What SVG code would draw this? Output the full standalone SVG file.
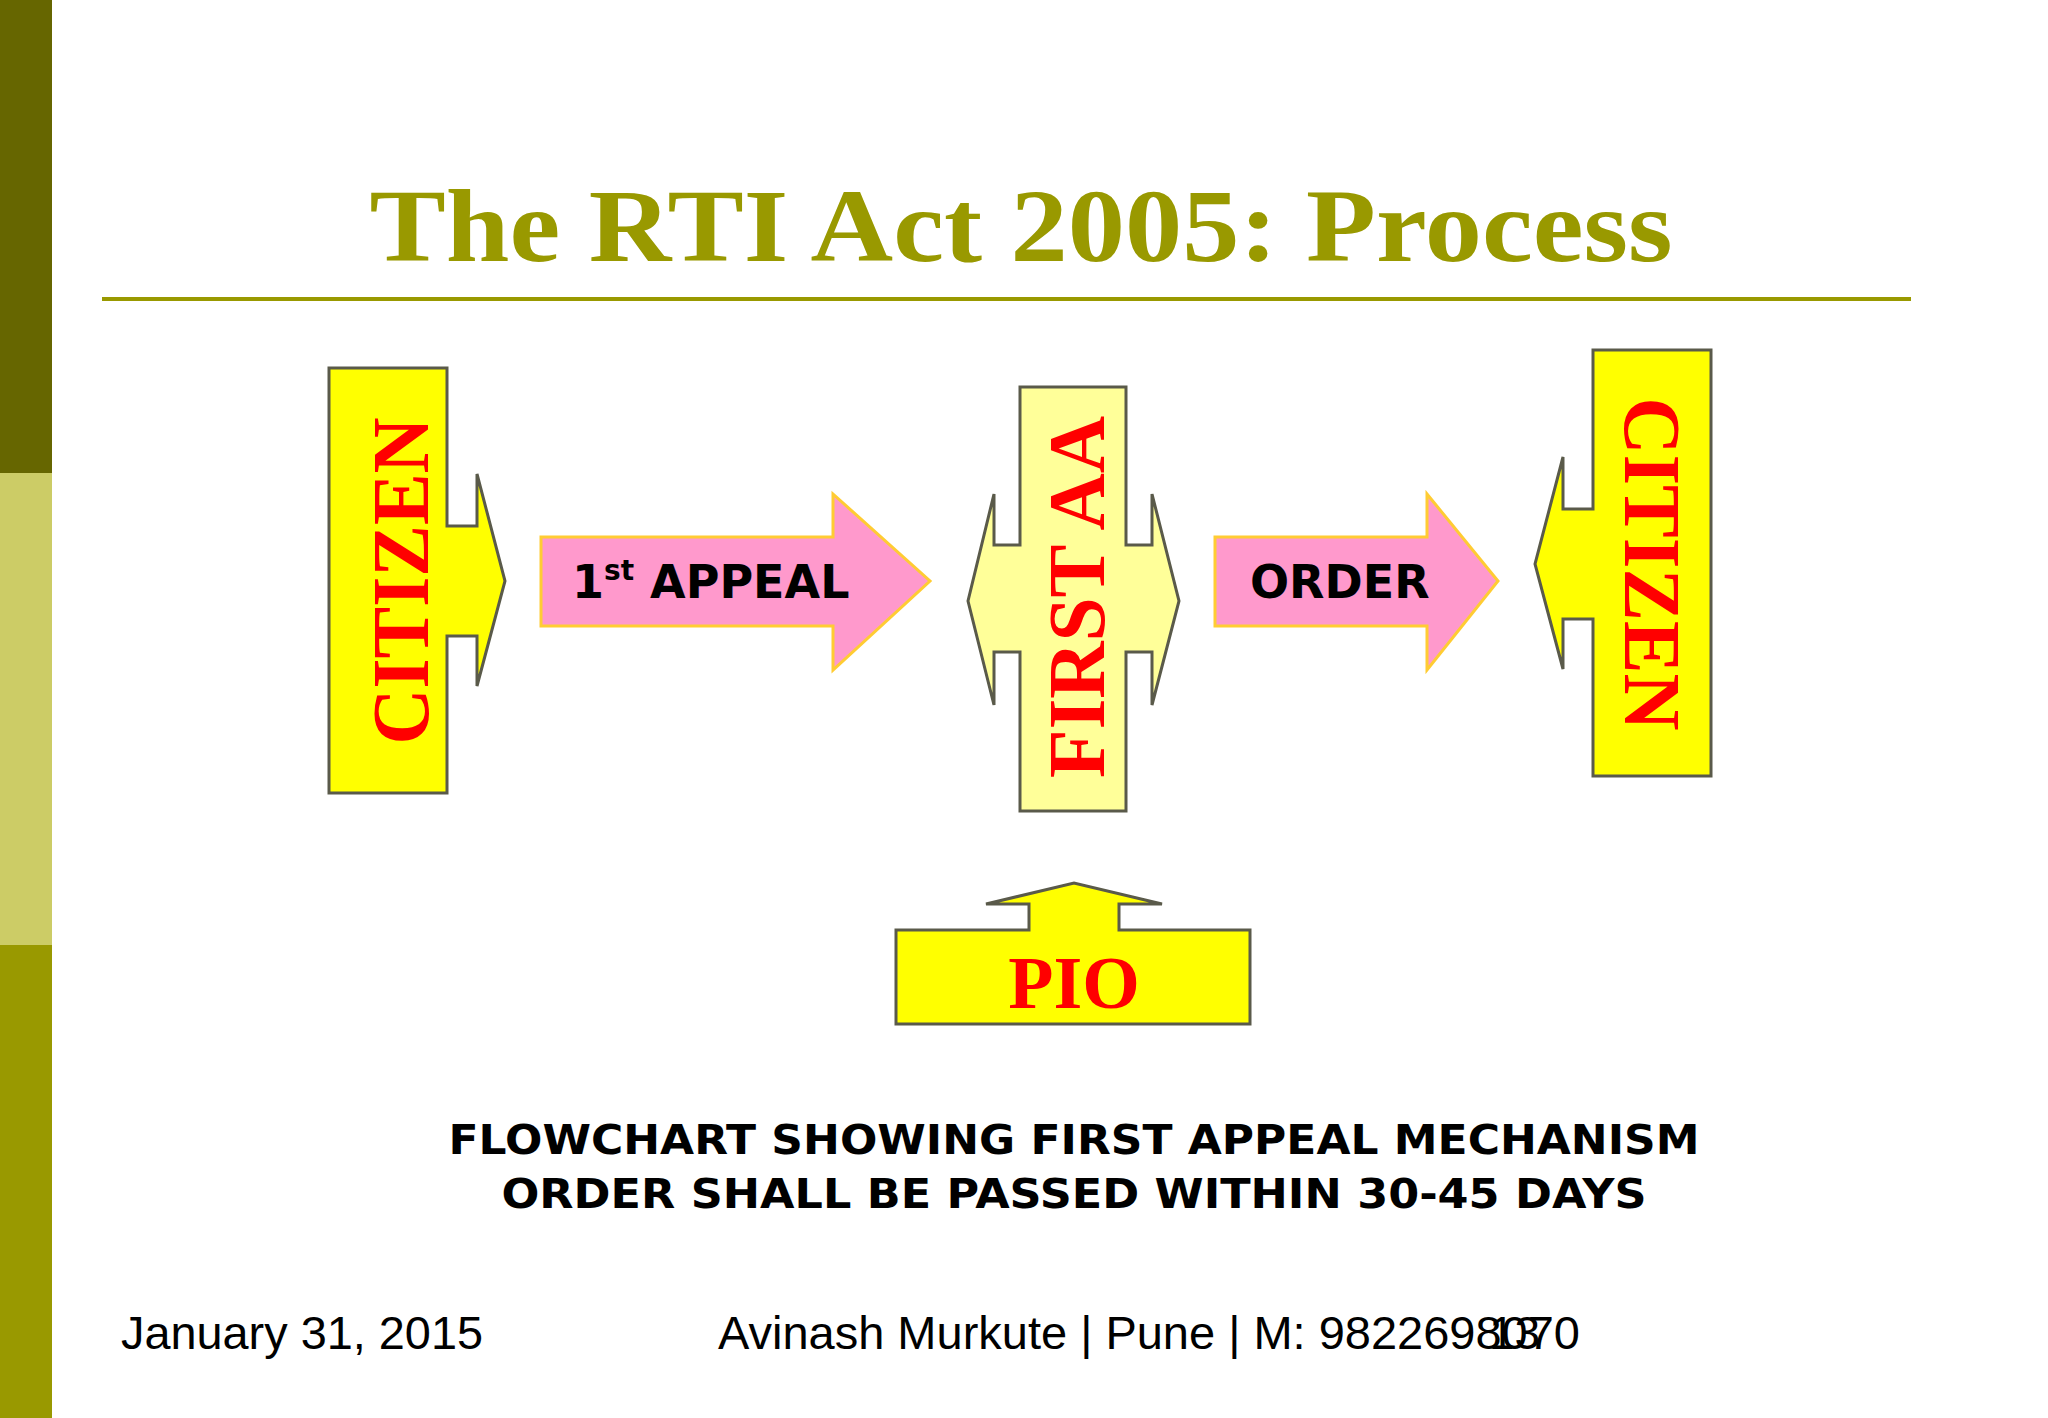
<svg xmlns="http://www.w3.org/2000/svg" width="2048" height="1418" viewBox="0 0 2048 1418">
<style>
.s{stroke:#5a5a4a;stroke-width:3}
.y{fill:#ffff00}
.ly{fill:#ffff99}
.pk{fill:#ff99cc;stroke:#ffcc33;stroke-width:3}
.red{font-family:"Liberation Serif",serif;font-weight:bold;fill:#ff0000}
.bk{font-family:"DejaVu Sans",sans-serif;font-weight:bold;fill:#000}
.ft{font-family:"Liberation Sans",sans-serif;font-size:46px;fill:#000}
</style>
<rect width="2048" height="1418" fill="#fff"/>
<rect x="0" y="0" width="52" height="473" fill="#666600"/>
<rect x="0" y="473" width="52" height="472" fill="#cccc66"/>
<rect x="0" y="945" width="52" height="473" fill="#999900"/>
<text x="1021" y="261" text-anchor="middle" font-family="Liberation Serif,serif" font-weight="bold" font-size="104" fill="#999900" textLength="1303" lengthAdjust="spacingAndGlyphs">The RTI Act 2005: Process</text>
<line x1="102" y1="299" x2="1911" y2="299" stroke="#999900" stroke-width="4"/>
<g id="connectors">
<g id="appeal"><polygon class="pk" points="541,537 833,537 833,494 930,581 833,670 833,626 541,626"/>
<text class="bk" x="572" y="598" font-size="46">1<tspan font-size="28" dy="-18">st</tspan><tspan dy="18"> APPEAL</tspan></text></g>
<g id="order"><polygon class="pk" points="1215,537 1427,537 1427,494 1498,581 1427,670 1427,626 1215,626"/>
<text class="bk" x="1250" y="598" font-size="46">ORDER</text></g>
</g>
<g id="citizen1"><polygon class="y s" points="329,368 447,368 447,526 477,526 477,474 505,581 477,686 477,636 447,636 447,793 329,793"/>
<text class="red" transform="translate(428,581) rotate(-90)" text-anchor="middle" font-size="80" textLength="327" lengthAdjust="spacingAndGlyphs">CITIZEN</text></g>
<g id="firstaa"><polygon class="ly s" points="1020,387 1126,387 1126,545 1152,545 1152,494 1179,601 1152,705 1152,652 1126,652 1126,811 1020,811 1020,652 994,652 994,705 968,601 994,494 994,545 1020,545"/>
<text class="red" transform="translate(1104,597) rotate(-90)" text-anchor="middle" font-size="80" textLength="362" lengthAdjust="spacingAndGlyphs">FIRST AA</text></g>
<g id="citizen2"><polygon class="y s" points="1593,350 1711,350 1711,776 1593,776 1593,619 1563,619 1563,669 1535,564 1563,457 1563,509 1593,509"/>
<text class="red" transform="translate(1625,564) rotate(90)" text-anchor="middle" font-size="80" textLength="333" lengthAdjust="spacingAndGlyphs">CITIZEN</text></g>
<g id="pio"><polygon class="y s" points="896,930 1029,930 1029,904 986,904 1074,883 1162,904 1119,904 1119,930 1250,930 1250,1024 896,1024"/>
<text class="red" x="1074" y="1008" text-anchor="middle" font-size="74">PIO</text></g>
<text class="bk" x="1074" y="1154" text-anchor="middle" font-size="40" textLength="1251" lengthAdjust="spacingAndGlyphs">FLOWCHART SHOWING FIRST APPEAL MECHANISM</text>
<text class="bk" x="1074" y="1208" text-anchor="middle" font-size="40" textLength="1145" lengthAdjust="spacingAndGlyphs">ORDER SHALL BE PASSED WITHIN 30-45 DAYS</text>
<text class="ft" x="121" y="1349" textLength="362" lengthAdjust="spacingAndGlyphs">January 31, 2015</text>
<text class="ft" x="718" y="1349" textLength="862" lengthAdjust="spacingAndGlyphs">Avinash Murkute | Pune | M: 9822698070</text>
<text class="ft" x="1489" y="1349">13</text>
</svg>
